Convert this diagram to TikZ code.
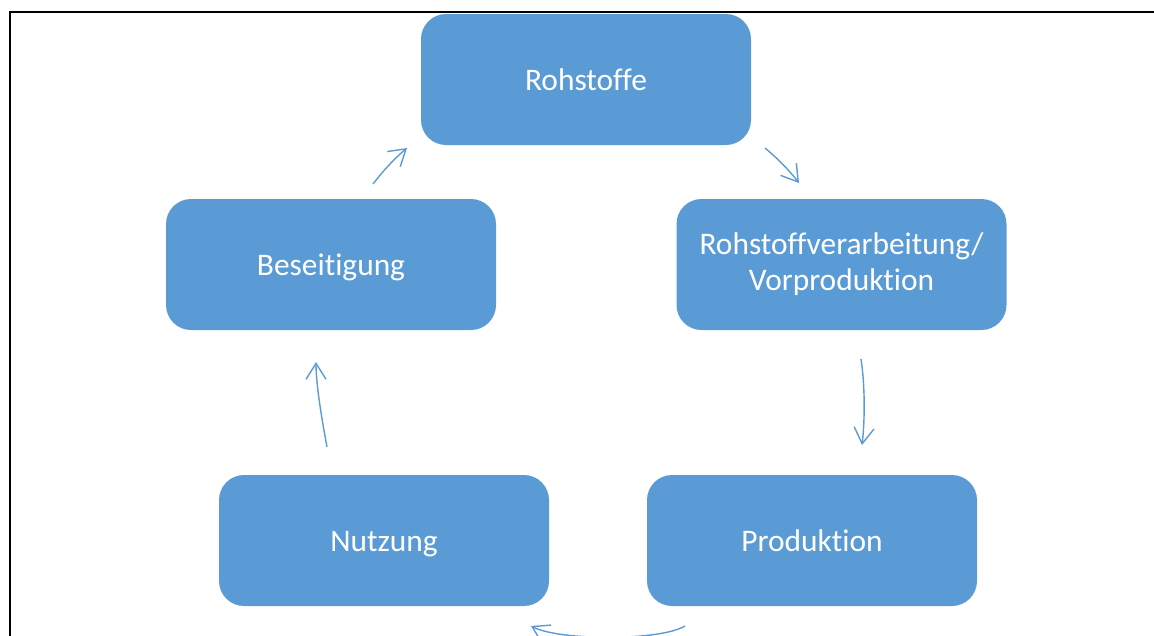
\documentclass[tikz,border=0pt]{standalone}
\usepackage{fontspec}
\setmainfont{Carlito}[Ligatures=NoCommon]
\usetikzlibrary{arrows.meta}
\definecolor{boxblue}{HTML}{5B9BD5}
\begin{document}
\begin{tikzpicture}[x=1pt,y=-1pt,
  stepbox/.style={fill=boxblue, draw=none, rounded corners=25pt, minimum width=330pt, minimum height=131pt,
    text=white, align=center, inner sep=0pt,
    font=\fontsize{31.4pt}{36pt}\selectfont},
  oneline/.style={stepbox, text height=21pt, text depth=0pt},
  cyc/.style={draw=boxblue, line width=1.4pt, -{Straight Barb[length=16pt,width=20pt]}}
]
\useasboundingbox (0,0) rectangle (1154,635);
\clip (0,0) rectangle (1154,635);
\draw[line width=2.2pt] (10,660) -- (10,12) -- (1170,12);

\node[oneline] (roh) at (586,79.5) {Rohstoffe};
\node[stepbox] (vor) at (841.5,264.5) {Rohstoffverarbeitung/\\Vorproduktion};
\node[oneline] (pro) at (812,540.5) {Produktion};
\node[oneline] (nut) at (384,540.5) {Nutzung};
\node[oneline] (bes) at (331,264.5) {Beseitigung};

\coordinate (a1s) at (373,184); \coordinate (a1e) at (407,148);
\coordinate (a2s) at (765,148); \coordinate (a2e) at (799,183);
\coordinate (a3s) at (861,359); \coordinate (a3e) at (862,445);
\coordinate (a4s) at (685,626); \coordinate (a4e) at (531,626);
\coordinate (a5s) at (327,447); \coordinate (a5e) at (316,362);

\draw[cyc] (a1s) .. controls (383,171) and (394,159) .. (a1e);
\draw[cyc] (a2s) .. controls (777,158) and (789,170) .. (a2e);
\draw[cyc] (a3s) .. controls (865,385) and (865,420) .. (a3e);
\draw[cyc] (a4s) .. controls (660,641) and (560,641) .. (a4e);
\draw[cyc] (a5s) .. controls (322,420) and (316,385) .. (a5e);
\end{tikzpicture}
\end{document}
